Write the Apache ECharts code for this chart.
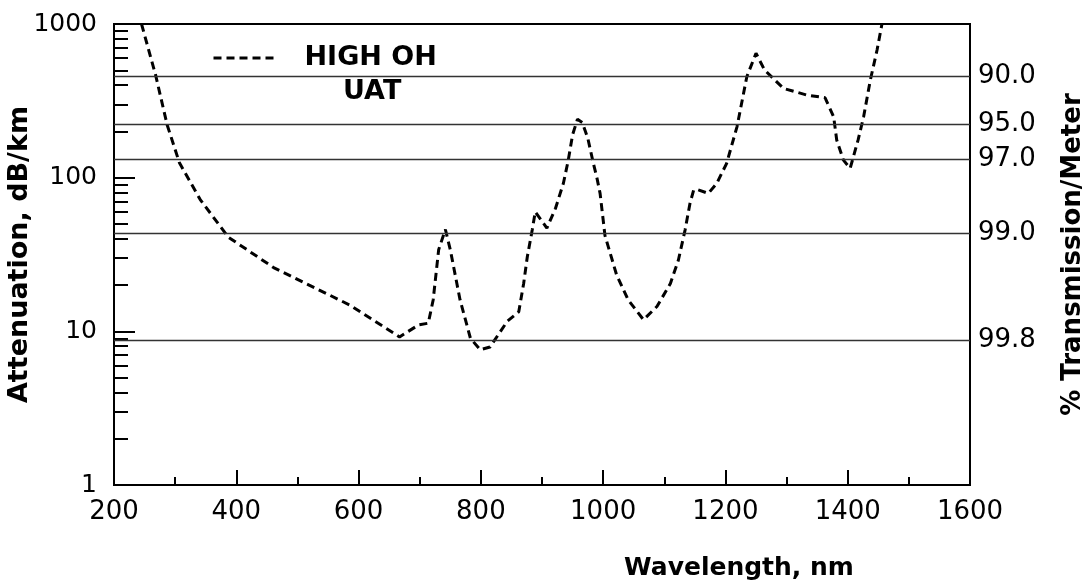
<!DOCTYPE html>
<html>
<head>
<meta charset="utf-8">
<script src="https://cdn.jsdelivr.net/npm/echarts@6/dist/echarts.min.js"></script>
<style>
html,body{margin:0;padding:0;background:#fff;}
#chart{width:1089px;height:587px;}
</style>
</head>
<body>
<div id="chart"></div>
<script>
// ---- data ----
const seriesName = 'HIGH OH';
const legendLine2 = 'UAT';
const wavelength = [245, 268, 287, 307, 341, 387, 461, 586, 667, 698, 714, 722, 731, 742, 750, 766, 783, 799, 815, 843, 862, 870, 876, 884, 889, 908, 922, 935, 943, 950, 958, 966, 975, 984, 990, 995, 1003, 1022, 1041, 1066, 1088, 1110, 1123, 1134, 1142, 1148, 1153, 1172, 1186, 1202, 1219, 1235, 1250, 1264, 1295, 1333, 1363, 1377, 1382, 1393, 1404, 1417, 1426, 1437, 1448, 1456];
const attenuation = [1000, 466, 220, 125, 72, 41, 26, 14.8, 9.2, 11.0, 11.3, 16, 34, 46, 34, 16, 9.0, 7.6, 7.9, 11.6, 13.4, 20.5, 30.6, 45.6, 60, 47, 63, 92, 130, 190, 240, 228, 180, 124, 99, 79, 42, 23.3, 16, 11.9, 14.5, 20.5, 29, 45.6, 68, 83, 84, 79, 92, 124, 215, 454, 645, 502, 381, 345, 331, 249, 176, 130, 115, 176, 249, 432, 677, 1000];
const xTicks = [200, 400, 600, 800, 1000, 1200, 1400, 1600];
const yMajorTicks = [1, 10, 100, 1000];
const transmissionLabels = ['90.0', '95.0', '97.0', '99.0', '99.8'];
const transmissionValues = [90.0, 95.0, 97.0, 99.0, 99.8];

// ---- derived ----
const points = wavelength.map((w, i) => [w, attenuation[i]]);
// attenuation (dB/km) corresponding to % transmission per meter
const transAtten = transmissionValues.map(t => -10000 * Math.log10(t / 100));
const yMinorTicks = [];
for (let d = 1; d < 1000; d *= 10) {
  for (let k = 2; k <= 9; k++) yMinorTicks.push(k * d);
}

const FONT = 'DejaVu Sans';
const DASH = [8, 5];
const chart = echarts.init(document.getElementById('chart'), null, {renderer: 'canvas'});
const option = {
  animation: false,
  backgroundColor: '#ffffff',
  grid: {left: 114, right: 119, top: 24, bottom: 102, show: true, borderColor: '#000', borderWidth: 2,
    backgroundColor: 'transparent', containLabel: false, outerBoundsMode: 'none'},
  legend: {
    show: true, left: 212, top: 43, padding: 0,
    itemWidth: 63, itemHeight: 14,
    data: [seriesName],
    itemStyle: {opacity: 0},
    lineStyle: {color: '#000', width: 3, type: DASH},
    textStyle: {fontFamily: FONT, fontWeight: 'bold', fontSize: 27, color: '#000', lineHeight: 30, padding: [0, 0, 0, 23]}
  },
  graphic: [{
    type: 'text', left: 343, top: 78,
    style: {text: legendLine2, fontFamily: FONT, fontWeight: 'bold', fontSize: 27, fill: '#000', textAlign: 'left'}
  }],
  xAxis: {
    type: 'value', min: xTicks[0], max: xTicks[xTicks.length - 1], interval: 200,
    name: 'Wavelength, nm', nameLocation: 'middle', nameGap: 71, nameMoveOverlap: false,
    nameTextStyle: {fontFamily: FONT, fontWeight: 'bold', fontSize: 25, color: '#000', padding: [0, 0, 0, 394]},
    axisLine: {show: true, lineStyle: {color: '#000', width: 2}},
    axisTick: {show: true, inside: true, length: 15, lineStyle: {color: '#000', width: 2}},
    minorTick: {show: true, splitNumber: 2, length: 8, lineStyle: {color: '#000', width: 2}},
    axisLabel: {fontFamily: FONT, fontSize: 26, color: '#000', margin: 14, formatter: v => String(v)},
    splitLine: {show: false}
  },
  yAxis: [
    {
      type: 'log', logBase: 10, min: 1, max: 1000, position: 'left',
      name: 'Attenuation, dB/km', nameLocation: 'middle', nameGap: 81, nameMoveOverlap: false,
      nameTextStyle: {fontFamily: FONT, fontWeight: 'bold', fontSize: 27, color: '#000'},
      axisLine: {show: true, lineStyle: {color: '#000', width: 2}},
      axisTick: {show: true, inside: true, length: 21, customValues: yMajorTicks, lineStyle: {color: '#000', width: 2}},
      axisLabel: {show: true, customValues: yMajorTicks, fontFamily: FONT, fontSize: 25, color: '#000', margin: 17,
        formatter: v => String(Math.round(v))},
      splitLine: {show: false}
    },
    {
      type: 'log', logBase: 10, min: 1, max: 1000, position: 'left', offset: 0,
      axisLine: {show: false},
      axisTick: {show: true, inside: true, length: 14, customValues: yMinorTicks, lineStyle: {color: '#000', width: 2}},
      axisLabel: {show: false},
      splitLine: {show: false}
    },
    {
      type: 'log', logBase: 10, min: 1, max: 1000, position: 'right',
      name: '% Transmission/Meter', nameLocation: 'middle', nameGap: 90, nameMoveOverlap: false,
      nameTextStyle: {fontFamily: FONT, fontWeight: 'bold', fontSize: 26, color: '#000'},
      axisLine: {show: true, lineStyle: {color: '#000', width: 2}},
      axisTick: {show: false, customValues: transAtten},
      axisLabel: {show: true, customValues: transAtten, fontFamily: FONT, fontSize: 26, color: '#000', margin: 8,
        formatter: v => {
          let best = 0, bd = Infinity;
          transAtten.forEach((a, i) => { const d = Math.abs(Math.log10(a) - Math.log10(v)); if (d < bd) { bd = d; best = i; } });
          return transmissionLabels[best];
        }},
      splitLine: {show: false}
    }
  ],
  series: [{
    name: seriesName,
    type: 'line',
    yAxisIndex: 0,
    data: points,
    symbol: 'none',
    smooth: false,
    clip: true,
    lineStyle: {color: '#000', width: 3, type: DASH},
    itemStyle: {color: '#000'},
    markLine: {
      silent: true, symbol: 'none', animation: false,
      label: {show: false},
      lineStyle: {color: '#333', width: 1.3, type: 'solid'},
      data: transAtten.map(a => ({yAxis: a}))
    }
  }]
};
chart.setOption(option);
</script>
</body>
</html>
